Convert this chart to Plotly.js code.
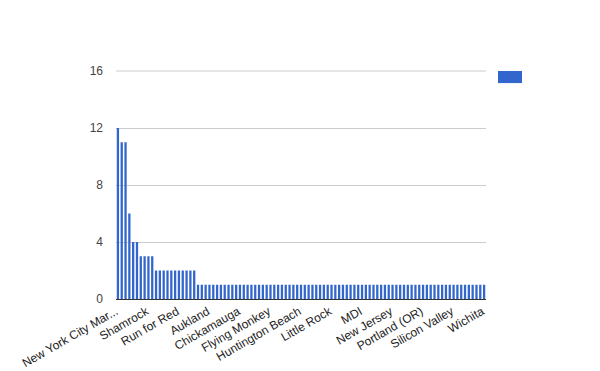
<!DOCTYPE html>
<html>
<head>
<meta charset="utf-8">
<script src="https://cdn.plot.ly/plotly-3.0.1.min.js"></script>
<style>html,body{margin:0;padding:0;background:#fff;}#chart{width:600px;height:371px;}</style>
</head>
<body>
<div id="chart"></div>
<script>
// Categories (sorted by count, descending)
const categories = [
  "New York City Marathon", "Chicago", "Marine Corps", "Boston", "Hamptons", "Wineglass",
  "Baystate", "Philly", "Shamrock", "Steamtown",
  "Bay of Fundy", "Cape Cod", "Grand Rapids", "Hershey", "Pocono", "Princeton", "Run for Red", "Rehoboth Beach", "Richmond Marathon", "Twin Cities", "Via",
  "Air Force", "Akron", "Atlanta", "Aukland", "Austin", "Baltimore", "Big Sur", "Boise", "Buffalo", "California International", "Charlotte",
  "Chickamauga", "Cincinnati", "Columbus", "Dallas", "Denver", "Des Moines", "Detroit", "Disney",
  "Flying Monkey", "Fort Worth", "Grandma's", "Green Bay", "Hartford", "Hatfield McCoy", "Honolulu", "Houston",
  "Huntington Beach", "Indianapolis", "Jacksonville", "Kansas City", "Kiawah Island", "Lake Tahoe", "Las Vegas", "Lincoln",
  "Little Rock", "Long Beach", "Los Angeles", "Louisville", "Loveland", "Lubbock", "Lucerne", "Lynchburg",
  "MDI", "Madison", "Memphis", "Miami", "Milwaukee", "Missoula", "Myrtle Beach", "Napa Valley",
  "New Jersey", "Newport", "Niagara", "Oakland", "Ocean City", "Omaha", "Philadelphia", "Pittsburgh",
  "Portland (OR)", "Providence", "Quad Cities", "Raleigh", "Rock 'n' Roll", "Sacramento", "San Diego", "Seattle",
  "Silicon Valley", "St. George", "St. Louis", "Tucson", "Tulsa", "Vermont City", "Virginia Beach", "Walt Disney World",
  "Wichita"
];
// Counts per category
const counts = [
  12, 11, 11, 6, 4, 4,
  3, 3, 3, 3,
  2, 2, 2, 2, 2, 2, 2, 2, 2, 2, 2,
  1, 1, 1, 1, 1, 1, 1, 1, 1, 1, 1,
  1, 1, 1, 1, 1, 1, 1, 1,
  1, 1, 1, 1, 1, 1, 1, 1,
  1, 1, 1, 1, 1, 1, 1, 1,
  1, 1, 1, 1, 1, 1, 1, 1,
  1, 1, 1, 1, 1, 1, 1, 1,
  1, 1, 1, 1, 1, 1, 1, 1,
  1, 1, 1, 1, 1, 1, 1, 1,
  1, 1, 1, 1, 1, 1, 1, 1,
  1
];
// Shown tick labels (every 8th category)
const tickCategories = ["New York City Marathon", "Shamrock", "Run for Red", "Aukland", "Chickamauga", "Flying Monkey", "Huntington Beach", "Little Rock", "MDI", "New Jersey", "Portland (OR)", "Silicon Valley", "Wichita"];
const tickLabels = ["New York City Mar...", "Shamrock", "Run for Red", "Aukland", "Chickamauga", "Flying Monkey", "Huntington Beach", "Little Rock", "MDI", "New Jersey", "Portland (OR)", "Silicon Valley", "Wichita"];
const yTicks = [0, 4, 8, 12, 16];

const trace = {
  type: 'bar',
  x: categories,
  y: counts,
  marker: {color: '#3366cc', line: {width: 0}},
  hoverinfo: 'x+y',
  showlegend: false
};

const layout = {
  width: 600, height: 371,
  margin: {l: 116, r: 114, t: 71, b: 72, pad: 0},
  paper_bgcolor: '#ffffff',
  plot_bgcolor: '#ffffff',
  font: {family: 'Arial, "Liberation Sans", sans-serif', size: 12, color: '#222222'},
  bargap: 0.4,
  showlegend: false,
  xaxis: {
    type: 'category',
    tickmode: 'array',
    tickvals: tickCategories,
    ticktext: tickLabels,
    tickangle: -30,
    ticks: '',
    showgrid: false,
    showline: true,
    linecolor: '#333333',
    linewidth: 1,
    tickfont: {size: 12, color: '#222222'},
    ticklabelshift: -2,
    automargin: false
  },
  yaxis: {
    range: [0, 16],
    tickmode: 'array',
    tickvals: yTicks,
    ticktext: yTicks.map(String),
    showgrid: true,
    gridcolor: '#cccccc',
    gridwidth: 1,
    zeroline: false,
    showline: false,
    ticks: '',
    ticklabelstandoff: 12,
    tickfont: {size: 12, color: '#444444'},
    automargin: false
  },
  shapes: [
    {
      type: 'line', xref: 'paper', yref: 'paper',
      x0: 0, x1: 1, y0: 1, y1: 1, layer: 'below',
      line: {color: '#cccccc', width: 1}
    },
    {
      type: 'rect', xref: 'paper', yref: 'paper',
      x0: 1.0324, x1: 1.0973, y0: 0.947, y1: 1.0,
      fillcolor: '#3366cc', line: {width: 0}
    }
  ]
};

Plotly.newPlot('chart', [trace], layout, {displayModeBar: false, staticPlot: true});
</script>
</body>
</html>
